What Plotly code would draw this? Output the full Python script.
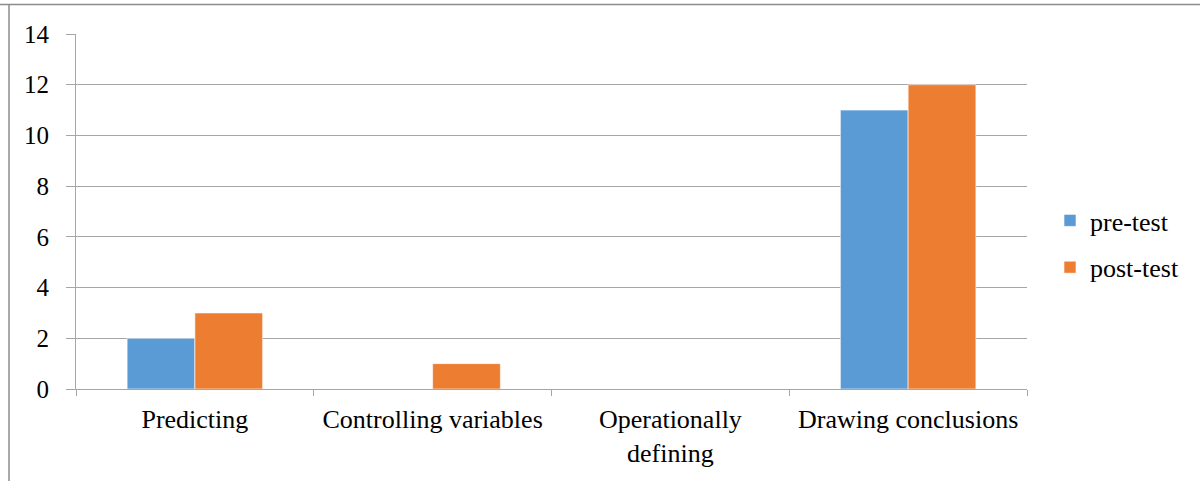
import plotly.graph_objects as go

categories = ["Predicting", "Controlling variables", "Operationally<br>defining", "Drawing conclusions"]
pre_test = [2, 0, 0, 11]
post_test = [3, 1, 0, 12]
y_ticks = [0, 2, 4, 6, 8, 10, 12, 14]

BLUE = "#5B9BD5"
ORANGE = "#ED7D31"
GRID = "#A6A6A6"
FONT = "Liberation Serif"

fig = go.Figure()
fig.add_trace(go.Bar(x=categories, y=pre_test, name="pre-test", marker=dict(color=BLUE, line=dict(color="white", width=0.6)), legendgroup="a"))
fig.add_trace(go.Bar(x=categories, y=post_test, name="post-test", marker=dict(color=ORANGE, line=dict(color="white", width=0.6)), legendgroup="b"))

L, R, T, B = 76, 173, 34, 92
W, H = 1200, 481
pw, ph = W - L - R, H - T - B

def px_x(x):
    return (x - L) / pw

def px_y(y):
    return (H - B - y) / ph

fig.update_layout(
    width=W, height=H,
    margin=dict(l=L, r=R, t=T, b=B),
    paper_bgcolor="white", plot_bgcolor="white",
    barmode="group", bargap=0.43, bargroupgap=0,
    font=dict(family=FONT, size=26, color="black"),
    showlegend=True,
    legend=dict(x=px_x(1050), y=px_y(244), xanchor="left", yanchor="middle",
                traceorder="grouped", tracegroupgap=10,
                font=dict(family=FONT, size=26, color="black"),
                itemwidth=30, bgcolor="rgba(0,0,0,0)"),
    xaxis=dict(showgrid=False, showline=True, linecolor=GRID, linewidth=1,
               ticks="outside", tickson="boundaries", ticklen=6, tickcolor=GRID,
               ticklabelstandoff=7,
               tickfont=dict(family=FONT, size=26, color="black")),
    yaxis=dict(range=[0, 14], tickvals=y_ticks, showgrid=True, gridcolor=GRID, gridwidth=1,
               showline=True, linecolor=GRID, linewidth=1, zeroline=False,
               ticks="outside", ticklen=9, tickcolor=GRID, ticklabelstandoff=12,
               tickfont=dict(family=FONT, size=25, color="black")),
    shapes=[
        dict(type="line", xref="paper", yref="paper", x0=px_x(0), x1=px_x(1200), y0=px_y(4.5), y1=px_y(4.5),
             line=dict(color="#8C8C8C", width=1.5)),
        dict(type="line", xref="paper", yref="paper", x0=px_x(9), x1=px_x(9), y0=px_y(4.5), y1=px_y(481),
             line=dict(color="#8C8C8C", width=1.5)),
    ],
)

fig.write_html("out.html", config={"displayModeBar": False},
               post_script="document.body.style.margin='0';")
